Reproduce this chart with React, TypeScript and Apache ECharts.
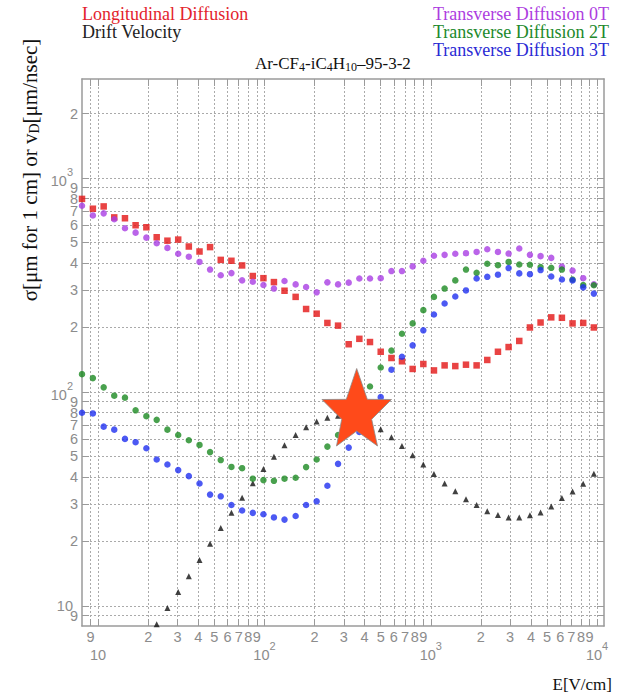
import { useEffect, useRef } from 'react';
import * as echarts from 'echarts';

// Electric field E [V/cm] of each measured point
const E = [8.0, 9.3, 10.8, 12.5, 14.5, 16.8, 19.5, 22.5, 26.1, 30.3, 35.1, 40.7, 47.1, 54.6, 63.3, 73.4, 85.1, 98.6, 114, 132, 154, 178, 206, 239, 277, 321, 372, 431, 500, 580, 671, 778, 902, 1045, 1211, 1404, 1628, 1886, 2186, 2534, 2937, 3404, 3945, 4572, 5299, 6141, 7117, 8249, 9560];

const longitudinal = [798, 718, 736, 654, 648, 601, 588, 528, 509, 515, 478, 453, 475, 414, 410, 390, 348, 340, 326, 297, 278, 244, 232, 210, 204, 167, 177, 171, 154, 144, 139, 128, 135, 126, 133, 132, 134, 133, 141, 154, 162, 173, 200, 211, 223, 222, 209, 210, 200];

const transverse0T = [741, 668, 683, 641, 582, 555, 526, 495, 471, 442, 428, 405, 373, 351, 359, 332, 327, 316, 304, 330, 318, 309, 292, 325, 318, 324, 339, 339, 340, 367, 367, 386, 410, 433, 437, 442, 445, 451, 464, 451, 443, 468, 437, 431, 423, 385, 369, 340, 318];

const transverse2T = [121, 116, 105, 96, 94, 82, 77, 74, 66.6, 62.9, 59.4, 56.5, 52.3, 48, 44.6, 44, 39.3, 38.7, 38.4, 39.3, 39.7, 44.5, 48.3, 55.5, 62.9, 73, 88, 106, 130, 156, 187, 209, 241, 278, 304, 332, 373, 360, 397, 391, 405, 394, 393, 383, 380, 373, 335, 316, 315];

const transverse3T = [79.9, 79.3, 68.8, 66.6, 60.3, 58.2, 54.5, 48.3, 45.8, 43.1, 40.4, 37.3, 33.1, 32.5, 29.6, 27.9, 27.2, 26.8, 25.9, 25.3, 26.3, 29.6, 30.8, 36.4, 46.1, 54.9, 65, 78, 94.5, 127, 146, 165, 194, 230, 259, 279, 298, 339, 345, 353, 379, 358, 355, 371, 346, 335, 332, 308, 288];

const driftVelocity = [null, null, null, null, null, null, null, 8.2, 9.76, 11.6, 13.75, 16.4, 19.5, 23.1, 27.2, 32, 37.4, 43.6, 49.7, 56.3, 62.9, 68.3, 72.8, 75.7, 77.3, 77.9, 75.5, 71.5, 66.9, 61.4, 55.9, 50.6, 45.8, 41.3, 37.3, 34.3, 31.5, 29.6, 27.7, 26.6, 25.9, 25.9, 26.5, 27.3, 29.1, 31.9, 34.2, 37.2, 41.4];

// tick / grid positions and labelled values
const xTicks = [9, 10, 20, 30, 40, 50, 60, 70, 80, 90, 100, 200, 300, 400, 500, 600, 700, 800, 900, 1000, 2000, 3000, 4000, 5000, 6000, 7000, 8000, 9000, 10000];
const yTicks = [9, 10, 20, 30, 40, 50, 60, 70, 80, 90, 100, 200, 300, 400, 500, 600, 700, 800, 900, 1000, 2000];
const xDigitLabels = [9, 20, 30, 40, 50, 60, 70, 80, 90, 200, 300, 400, 500, 600, 700, 800, 900, 2000, 3000, 4000, 5000, 6000, 7000, 8000, 9000];
const xDecadeLabels = [10, 100, 1000, 10000];
const yDigitLabels = [9, 20, 30, 40, 50, 60, 70, 80, 90, 200, 300, 400, 500, 600, 700, 800, 900, 2000];
const yDecadeLabels = [10, 100, 1000];

const GRAY = '#8c8c8c';
const SANS = '"Liberation Sans", Arial, sans-serif';
const SERIF = '"Liberation Serif", "Times New Roman", serif';

function split(v: number) {
  const exp = Math.floor(Math.log10(v) + 1e-9);
  const lead = Math.round(v / Math.pow(10, exp));
  return { exp, lead };
}

function fmtDigit(v: number) {
  return '{d|' + split(v).lead + '}';
}

function fmtDecadeX(v: number) {
  const { exp } = split(v);
  return exp === 1 ? '{b|10}' : '{b|10}{s|' + exp + '}';
}

function fmtDecadeY(v: number) {
  const { exp } = split(v);
  return exp === 1 ? '{d|10}' : '{b|10}{s|' + exp + '}';
}

const digitStyle = { fontSize: 14.5, lineHeight: 16, color: GRAY, fontFamily: SANS };

const richX = {
  d: digitStyle,
  b: { fontSize: 14.5, lineHeight: 26, color: GRAY, fontFamily: SANS, verticalAlign: 'bottom' },
  s: { fontSize: 11, lineHeight: 26, color: GRAY, fontFamily: SANS, verticalAlign: 'top', padding: [4, 0, 0, 0] },
};

const richY = {
  d: digitStyle,
  b: { fontSize: 14.5, lineHeight: 22, color: GRAY, fontFamily: SANS, verticalAlign: 'bottom' },
  s: { fontSize: 11, lineHeight: 22, color: GRAY, fontFamily: SANS, verticalAlign: 'top' },
};

const serifRich = (size: number, sub: number) => ({
  n: { fontSize: size, fontFamily: SERIF, fill: '#111111', color: '#111111', lineHeight: size + 1, verticalAlign: 'top' },
  sub: { fontSize: sub, fontFamily: SERIF, fill: '#111111', color: '#111111', lineHeight: sub + 1, verticalAlign: 'bottom', padding: [Math.round(size * 0.6), 0, 0, 0] },
});

function pairs(vals: (number | null)[]) {
  const out: [number, number][] = [];
  vals.forEach((v, i) => {
    if (v != null) out.push([E[i], v]);
  });
  return out;
}

function legendText(text: string, color: string, left: number, top: number) {
  return {
    type: 'text', left, top,
    style: {
      text: '{n|' + text + '}',
      fill: color,
      rich: { n: { fontSize: 18, fontFamily: SERIF, fill: color, color, lineHeight: 19, verticalAlign: 'top' } },
    },
  };
}

const X_RANGE = { min: 8, max: 11000 };
const Y_RANGE = { min: 8.05, max: 2900 };

export default function App() {
  const ref = useRef<HTMLDivElement>(null);
  useEffect(() => {
    if (!ref.current) return;
    const chart = echarts.init(ref.current, null, { renderer: 'svg' });
    const axisLine = { show: true, lineStyle: { color: '#9a9a9a', width: 1.5 } };
    const tick = (vals: number[]) => ({ show: true, inside: true, length: 7, customValues: vals, lineStyle: { color: '#9a9a9a' } });
    const grid = { show: true, lineStyle: { color: '#aaaaaa', type: [2, 2], width: 1 } };
    const option: any = {
      animation: false,
      backgroundColor: '#ffffff',
      grid: { left: 82, right: 25, top: 79, bottom: 69, containLabel: false },
      xAxis: [
        {
          type: 'log', logBase: 10, ...X_RANGE, position: 'bottom',
          axisLine, axisTick: tick(xTicks),
          axisLabel: { show: true, customValues: xDigitLabels, formatter: fmtDigit, margin: 3, color: GRAY, fontSize: 14.5, fontFamily: SANS, rich: richX },
          splitLine: grid,
        },
        {
          type: 'log', logBase: 10, ...X_RANGE, position: 'top',
          axisLine, axisTick: tick(xTicks), axisLabel: { show: false }, splitLine: { show: false },
        },
        {
          type: 'log', logBase: 10, ...X_RANGE, position: 'bottom',
          axisLine: { show: false }, axisTick: { show: false }, splitLine: { show: false },
          axisLabel: { show: true, customValues: xDecadeLabels, formatter: fmtDecadeX, margin: 10, color: GRAY, fontSize: 14.5, fontFamily: SANS, rich: richX },
        },
      ],
      yAxis: [
        {
          type: 'log', logBase: 10, ...Y_RANGE, position: 'left',
          axisLine, axisTick: tick(yTicks),
          axisLabel: { show: true, customValues: yDigitLabels, formatter: fmtDigit, margin: 4, color: GRAY, fontSize: 14.5, fontFamily: SANS, rich: richY },
          splitLine: grid,
        },
        {
          type: 'log', logBase: 10, ...Y_RANGE, position: 'right',
          axisLine, axisTick: tick(yTicks), axisLabel: { show: false }, splitLine: { show: false },
        },
        {
          type: 'log', logBase: 10, ...Y_RANGE, position: 'left',
          axisLine: { show: false }, axisTick: { show: false }, splitLine: { show: false },
          axisLabel: { show: true, customValues: yDecadeLabels, formatter: fmtDecadeY, margin: 9, color: GRAY, fontSize: 14.5, fontFamily: SANS, rich: richY },
        },
      ],
      series: [
        { name: 'Longitudinal Diffusion', type: 'scatter', symbol: 'rect', symbolSize: 6.5, itemStyle: { color: '#e41414' }, data: pairs(longitudinal) },
        { name: 'Drift Velocity', type: 'scatter', symbol: 'triangle', symbolSize: 6, itemStyle: { color: '#111111' }, data: pairs(driftVelocity) },
        { name: 'Transverse Diffusion 0T', type: 'scatter', symbol: 'circle', symbolSize: 6.5, itemStyle: { color: '#a93de3' }, data: pairs(transverse0T) },
        { name: 'Transverse Diffusion 2T', type: 'scatter', symbol: 'circle', symbolSize: 6.5, itemStyle: { color: '#1b8a22' }, data: pairs(transverse2T) },
        { name: 'Transverse Diffusion 3T', type: 'scatter', symbol: 'circle', symbolSize: 6.5, itemStyle: { color: '#1f2ff0' }, data: pairs(transverse3T) },
      ],
      graphic: [
        legendText('Longitudinal Diffusion', '#e3232c', 82, 5),
        legendText('Drift Velocity', '#222222', 82, 23),
        legendText('Transverse Diffusion 0T', '#ad3ddf', 433, 5),
        legendText('Transverse Diffusion 2T', '#21892b', 433, 23),
        legendText('Transverse Diffusion 3T', '#2a2ad4', 433, 41),
        {
          type: 'text', left: 255, top: 51,
          style: {
            text: '{n|Ar-CF}{sub|4}{n|-iC}{sub|4}{n|H}{sub|10}{n|\u201395-3-2}',
            fill: '#111111',
            rich: serifRich(17, 12),
          },
        },
        {
          type: 'text', x: 30, y: 170, rotation: Math.PI / 2,
          style: {
            text: '{n|\u03c3[\u03bcm for 1 cm] or v}{sub|D}{n|[\u03bcm/nsec]}',
            align: 'center', verticalAlign: 'middle', textAlign: 'center', textVerticalAlign: 'middle',
            fill: '#111111',
            rich: serifRich(21, 14),
          },
        },
        {
          type: 'text', right: 17, top: 676,
          style: { text: '{n|E[V/cm]}', fill: '#111111', rich: { n: { fontSize: 17, fontFamily: SERIF, fill: '#111111', color: '#111111' } } },
        },
        {
          type: 'polygon', z: 100,
          shape: { points: [[356.7, 368.5], [367.3, 399.3], [391.5, 399.5], [371.7, 419.3], [377.5, 446], [356.7, 431], [336.5, 446], [341.7, 419.3], [322, 399.5], [346.3, 399.3]] },
          style: { fill: '#ff4a1a', stroke: '#8a8a8a', lineWidth: 0.8 },
        },
      ],
    };
    chart.setOption(option);
    return () => chart.dispose();
  }, []);
  return <div ref={ref} style={{ position: 'absolute', left: 0, top: 0, width: 629, height: 695, background: '#fff' }} />;
}
